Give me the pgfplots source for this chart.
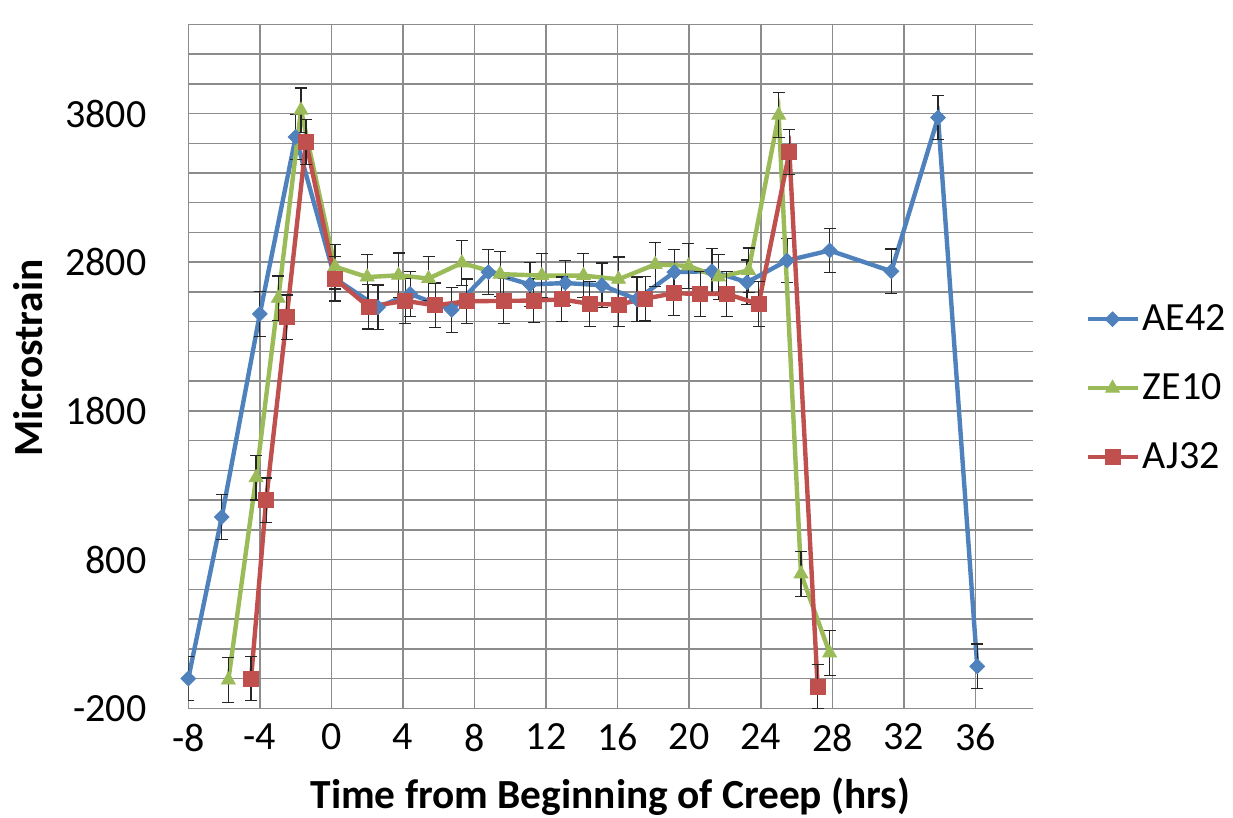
\documentclass[border=0pt]{standalone}
\usepackage{fontspec}
\setmainfont{Carlito}
\usepackage{pgfplots}
\usepackage{pgfplotstable}
\pgfplotsset{compat=1.18}
\definecolor{cblue}{HTML}{4F81BD}
\definecolor{cgreen}{HTML}{9BBB59}
\definecolor{cred}{HTML}{C0504D}
\definecolor{gridgray}{HTML}{8C8C8C}

\pgfplotstableread{
x y
-8 0
-6.13 1086
-4 2452
-2 3642
0.2 2690
2.6 2497
4.4 2587
6.73 2479
8.78 2733
11.1 2650
13.07 2660
15.12 2645
17.08 2550
19.17 2733
21.27 2740
23.23 2665
25.47 2811
27.85 2879
31.3 2739
33.91 3773
36.1 82
}\aeffff

\pgfplotstableread{
x y
-5.76 -10
-4.21 1351
-2.97 2557
-1.70 3822
0.2 2770
2.0 2700
3.75 2712
5.43 2690
7.29 2795
9.43 2720
11.76 2710
14.09 2710
16.05 2685
18.1 2785
19.96 2775
21.64 2700
23.32 2745
25.0 3789
26.25 704
27.85 172
}\zeten

\pgfplotstableread{
x y
-4.49 0
-3.65 1199
-2.5 2429
-1.42 3609
0.2 2688
2.07 2501
4.12 2540
5.8 2510
7.57 2537
9.62 2540
11.3 2542
12.88 2550
14.43 2520
16.05 2515
17.54 2555
19.13 2591
20.62 2587
22.1 2587
23.88 2518
25.6 3541
27.18 -53
}\ajtt

\begin{document}
\begin{tikzpicture}
\begin{axis}[
  scale only axis, width=422.2pt, height=342pt,
  xmin=-8, xmax=39.2, ymin=-200, ymax=4400,
  xtick={-8,-4,...,36}, ytick={-200,800,1800,2800,3800},
  minor ytick={0,200,...,4400},
  xmajorgrids, ymajorgrids, yminorgrids,
  grid style={gridgray, line width=0.75pt},
  minor grid style={gridgray, line width=0.75pt},
  axis x line*=bottom, axis y line*=left,
  axis line style={gridgray, line width=0.75pt, -},
  major tick length=0pt, minor tick length=0pt,
  /pgf/number format/assume math mode=true,
  /pgf/number format/1000 sep={},
  ticklabel style={font=\fontsize{20}{24}\selectfont, inner sep=0pt},
  xticklabel style={anchor=north},
  yticklabel style={anchor=east},
  xticklabel shift=7.5pt, yticklabel shift=20.8pt,
  xlabel={Time from Beginning of Creep (hrs)},
  ylabel={Microstrain},
  label style={font=\fontsize{20.7}{24}\selectfont\bfseries, inner sep=0pt},
  xlabel style={at={(axis description cs:0.5,-0.1462)}, anchor=base},
  ylabel style={at={(axis description cs:-0.1717,0.512)}, anchor=south},
  legend style={at={(axis description cs:1.0619,0.468)}, anchor=west, draw=none, fill=none,
    inner sep=0pt, font=\fontsize{20}{24}\selectfont, row sep=20pt, column sep=1.5pt,
    nodes={inner sep=0pt}},
  legend cell align=left,
  legend image code/.code={\draw[mark repeat=2, mark phase=2, #1] plot coordinates {(0pt,0pt) (12.5pt,0pt) (25pt,0pt)};},
  error bars/error bar style={black!85, line width=0.6pt, solid},
  error bars/error mark options={rotate=90, black!85, line width=0.6pt, mark size=3pt},
]
\addplot[cblue, line width=2.2pt, mark=square*, mark size=2.6pt,
  mark options={rotate=45, fill=cblue, draw=cblue, line width=0.4pt},
  error bars/.cd, y dir=both, y fixed=150]
  table[x=x, y=y] {\aeffff};
\addlegendentry{AE42}
\addplot[cgreen, line width=2.2pt, mark=triangle*, mark size=4pt,
  mark options={fill=cgreen, draw=cgreen, line width=0.4pt},
  error bars/.cd, y dir=both, y fixed=150]
  table[x=x, y=y] {\zeten};
\addlegendentry{ZE10}
\addplot[cred, line width=2.2pt, mark=square*, mark size=3.75pt,
  mark options={fill=cred, draw=cred, line width=0.4pt},
  error bars/.cd, y dir=both, y fixed=150]
  table[x=x, y=y] {\ajtt};
\addlegendentry{AJ32}
\end{axis}
\pgfresetboundingbox
\useasboundingbox (-94.15pt,-54.85pt) rectangle (522.35pt,354.15pt);
\end{tikzpicture}
\end{document}
